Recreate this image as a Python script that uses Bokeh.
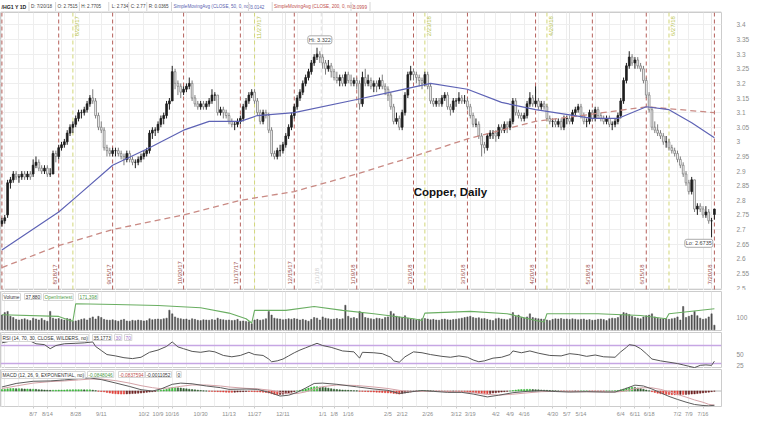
import pandas as pd
from bokeh.plotting import figure
from bokeh.layouts import column
from bokeh.models import (Range1d, Span, Label, FixedTicker, CustomJSTickFormatter,
                          ColumnDataSource, Grid)
from bokeh.core.properties import value
from bokeh.embed import file_html
from bokeh.resources import INLINE

FONT = "Liberation Sans"
FW = 721
RB = 38

# ---------------- data ----------------
holidays = ["2017-09-04", "2017-11-23", "2017-12-25", "2018-01-01", "2018-01-15",
            "2018-02-19", "2018-03-30", "2018-05-28", "2018-07-04"]

opens = [2.72,2.73,2.75,2.86,2.87,2.89,2.88,2.88,2.89,2.88,
         2.89,2.89,2.92,2.93,2.91,2.90,2.91,2.89,2.89,2.96,
         2.95,2.98,2.99,3.00,3.03,3.05,3.06,3.08,3.10,3.10,
         3.11,3.13,3.15,3.14,3.09,3.05,3.04,2.98,2.97,2.96,
         2.97,2.97,2.96,2.95,2.94,2.96,2.94,2.93,2.93,2.94,
         2.95,2.96,2.97,3.03,3.04,3.04,3.06,3.08,3.09,3.13,
         3.14,3.24,3.20,3.19,3.17,3.18,3.19,3.20,3.15,3.13,
         3.12,3.13,3.12,3.13,3.14,3.16,3.16,3.10,3.11,3.10,
         3.09,3.07,3.06,3.06,3.07,3.08,3.12,3.14,3.16,3.17,
         3.14,3.10,3.07,3.10,3.09,3.04,2.96,2.95,2.97,2.97,
         2.99,3.02,3.05,3.09,3.12,3.15,3.17,3.20,3.22,3.24,
         3.27,3.29,3.30,3.29,3.27,3.25,3.26,3.24,3.22,3.21,
         3.22,3.20,3.23,3.21,3.20,3.21,3.20,3.13,3.22,3.20,
         3.21,3.19,3.20,3.19,3.21,3.19,3.18,3.16,3.12,3.07,
         3.08,3.05,3.10,3.16,3.23,3.24,3.23,3.22,3.21,3.20,
         3.23,3.19,3.14,3.13,3.14,3.13,3.15,3.16,3.12,3.11,
         3.14,3.14,3.15,3.14,3.14,3.12,3.09,3.06,3.06,3.02,
         2.99,2.98,3.02,3.03,3.03,3.02,3.05,3.04,3.06,3.05,
         3.07,3.14,3.10,3.09,3.08,3.09,3.13,3.15,3.13,3.14,
         3.12,3.13,3.12,3.08,3.07,3.07,3.06,3.07,3.05,3.08,
         3.08,3.07,3.10,3.11,3.12,3.09,3.07,3.07,3.10,3.08,
         3.11,3.09,3.08,3.07,3.08,3.06,3.06,3.07,3.09,3.14,
         3.21,3.26,3.29,3.27,3.28,3.26,3.25,3.21,3.16,3.11,
         3.05,3.04,3.03,3.02,3.00,3.00,2.98,2.97,2.96,2.94,
         2.92,2.89,2.86,2.83,2.87,2.77,2.78,2.77,2.75,2.76,
         2.73,2.7515]
highs = [2.74,2.75,2.87,2.88,2.90,2.90,2.89,2.90,2.90,2.90,
         2.90,2.94,2.95,2.94,2.92,2.92,2.92,2.91,2.97,2.97,
         2.99,3.00,3.01,3.04,3.06,3.07,3.09,3.11,3.11,3.12,
         3.14,3.16,3.18,3.15,3.10,3.07,3.05,2.99,2.98,2.98,
         2.98,2.98,2.97,2.96,2.97,2.97,2.95,2.94,2.95,2.96,
         2.97,2.98,3.04,3.05,3.05,3.07,3.09,3.10,3.14,3.15,
         3.26,3.25,3.21,3.20,3.19,3.20,3.22,3.21,3.16,3.14,
         3.14,3.14,3.14,3.15,3.18,3.17,3.16,3.12,3.12,3.11,
         3.10,3.08,3.07,3.08,3.09,3.13,3.15,3.17,3.18,3.18,
         3.15,3.11,3.11,3.11,3.10,3.05,2.97,2.98,2.99,3.00,
         3.03,3.06,3.10,3.13,3.16,3.18,3.21,3.23,3.25,3.28,
         3.30,3.322,3.31,3.30,3.28,3.28,3.27,3.25,3.24,3.23,
         3.23,3.24,3.24,3.23,3.22,3.22,3.21,3.24,3.25,3.23,
         3.22,3.21,3.21,3.22,3.23,3.20,3.19,3.17,3.13,3.10,
         3.09,3.11,3.17,3.24,3.26,3.25,3.24,3.23,3.22,3.24,
         3.24,3.20,3.15,3.15,3.15,3.16,3.17,3.17,3.13,3.15,
         3.15,3.17,3.16,3.16,3.15,3.13,3.10,3.08,3.07,3.03,
         3.00,3.03,3.04,3.04,3.04,3.06,3.06,3.07,3.07,3.08,
         3.15,3.15,3.11,3.10,3.10,3.14,3.17,3.16,3.19,3.15,
         3.14,3.14,3.13,3.09,3.08,3.08,3.08,3.08,3.09,3.09,
         3.09,3.11,3.12,3.13,3.13,3.10,3.08,3.11,3.11,3.12,
         3.12,3.10,3.09,3.09,3.09,3.07,3.08,3.10,3.15,3.22,
         3.27,3.31,3.30,3.29,3.29,3.27,3.26,3.22,3.17,3.12,
         3.07,3.06,3.04,3.03,3.02,3.01,2.99,2.98,2.97,2.95,
         2.93,2.90,2.87,2.88,2.87,2.79,2.79,2.78,2.78,2.77,
         2.74,2.7705]
lows = [2.71,2.72,2.74,2.84,2.86,2.87,2.86,2.87,2.87,2.87,
        2.87,2.88,2.91,2.90,2.89,2.89,2.88,2.88,2.89,2.93,
        2.94,2.97,2.98,2.99,3.02,3.03,3.05,3.07,3.08,3.09,
        3.10,3.12,3.13,3.08,3.04,3.03,2.97,2.95,2.95,2.95,
        2.95,2.95,2.94,2.92,2.93,2.93,2.92,2.91,2.92,2.93,
        2.94,2.95,2.96,3.01,3.02,3.03,3.05,3.06,3.08,3.11,
        3.14,3.18,3.16,3.15,3.16,3.17,3.18,3.14,3.12,3.11,
        3.11,3.11,3.11,3.12,3.13,3.14,3.09,3.09,3.08,3.08,
        3.06,3.05,3.04,3.05,3.06,3.07,3.11,3.13,3.15,3.13,
        3.09,3.06,3.06,3.08,3.03,2.95,2.94,2.94,2.95,2.96,
        2.98,3.01,3.04,3.08,3.11,3.14,3.16,3.19,3.21,3.23,
        3.26,3.28,3.27,3.25,3.23,3.24,3.22,3.21,3.20,3.19,
        3.19,3.19,3.20,3.19,3.19,3.18,3.11,3.12,3.19,3.19,
        3.18,3.17,3.17,3.18,3.18,3.16,3.14,3.11,3.06,3.06,
        3.04,3.04,3.09,3.15,3.21,3.21,3.20,3.19,3.18,3.19,
        3.18,3.13,3.12,3.12,3.12,3.12,3.14,3.11,3.09,3.10,
        3.12,3.13,3.13,3.13,3.11,3.08,3.05,3.05,3.01,2.95,
        2.96,2.97,3.01,3.01,3.00,3.01,3.03,3.03,3.03,3.04,
        3.06,3.09,3.08,3.07,3.07,3.08,3.12,3.12,3.12,3.11,
        3.11,3.11,3.07,3.06,3.05,3.05,3.05,3.04,3.04,3.06,
        3.06,3.06,3.09,3.10,3.08,3.06,3.05,3.06,3.07,3.07,
        3.08,3.07,3.06,3.06,3.05,3.04,3.05,3.06,3.08,3.13,
        3.20,3.25,3.26,3.25,3.25,3.24,3.20,3.15,3.10,3.04,
        3.03,3.02,3.01,2.99,2.98,2.97,2.96,2.95,2.93,2.91,
        2.88,2.85,2.82,2.82,2.76,2.75,2.76,2.74,2.74,2.72,
        2.6735,2.734]
closes = [2.73,2.74,2.86,2.87,2.89,2.88,2.88,2.89,2.88,2.89,
          2.88,2.92,2.93,2.91,2.90,2.91,2.89,2.89,2.96,2.95,
          2.98,2.99,3.00,3.03,3.05,3.06,3.08,3.10,3.10,3.11,
          3.13,3.15,3.14,3.09,3.05,3.04,2.98,2.97,2.96,2.97,
          2.97,2.96,2.95,2.94,2.96,2.94,2.93,2.93,2.94,2.95,
          2.96,2.97,3.03,3.04,3.04,3.06,3.08,3.09,3.13,3.14,
          3.24,3.20,3.19,3.17,3.18,3.19,3.20,3.15,3.13,3.12,
          3.13,3.12,3.13,3.14,3.16,3.16,3.10,3.11,3.10,3.09,
          3.07,3.06,3.06,3.07,3.08,3.12,3.14,3.16,3.17,3.14,
          3.10,3.07,3.10,3.09,3.04,2.96,2.95,2.97,2.97,2.99,
          3.02,3.05,3.09,3.12,3.15,3.17,3.20,3.22,3.24,3.27,
          3.29,3.30,3.29,3.27,3.25,3.26,3.24,3.22,3.21,3.22,
          3.20,3.23,3.21,3.20,3.21,3.20,3.13,3.22,3.20,3.21,
          3.19,3.20,3.19,3.21,3.19,3.18,3.16,3.12,3.07,3.08,
          3.05,3.10,3.16,3.23,3.24,3.23,3.22,3.21,3.20,3.23,
          3.19,3.14,3.13,3.14,3.13,3.15,3.16,3.12,3.11,3.14,
          3.14,3.15,3.14,3.14,3.12,3.09,3.06,3.06,3.02,2.99,
          2.98,3.02,3.03,3.03,3.02,3.05,3.04,3.06,3.05,3.07,
          3.14,3.10,3.09,3.08,3.09,3.13,3.15,3.13,3.14,3.12,
          3.13,3.12,3.08,3.07,3.07,3.06,3.07,3.05,3.08,3.08,
          3.07,3.10,3.11,3.12,3.09,3.07,3.07,3.10,3.08,3.11,
          3.09,3.08,3.07,3.08,3.06,3.06,3.07,3.09,3.14,3.21,
          3.26,3.29,3.27,3.28,3.26,3.25,3.21,3.16,3.11,3.05,
          3.04,3.03,3.02,3.00,3.00,2.98,2.97,2.96,2.94,2.92,
          2.89,2.86,2.83,2.87,2.77,2.78,2.77,2.75,2.76,2.73,
          2.73,2.77]

# volume, thousands of contracts (one row per week)
volume_k = [120,
    140,150,110,100,85, 80,85,90,82,75, 95,88,80,92,78, 70,150,95,88,92,
    85,80,92,88,70, 72,78,85,90,80, 95,105,88,110, 100,85,80,78,82,
    75,70,80,85,72, 70,78,74,80,76, 72,75,90,82,85, 88,84,90,95,160,
    130,105,95,90,85, 88,80,90,85,78, 75,82,80,78,84, 80,95,85,82,78,
    80,75,78,85,70, 72,68,65,50, 80,85,78,82,90, 150,120,95,90,88,
    82,85,90,86,92, 88,80,85,78,70, 85,100,95,80, 105,95,90,85,
    88,92,85,90,200, 110,95,100,92, 150,140,100,95,90, 85,95,92,88,100,
    105,150,130,110,105, 100,115,95,88,85, 80,85,90,92, 88,82,85,80,78,
    85,88,82,80,84, 86,90,95,100,105, 110,100,95,98,90, 92,85,80,75,
    90,95,88,85,82, 90,140,110,120,100, 95,105,130,100,95, 90,88,85,80,75,
    85,90,88,92,86, 88,84,90,86,82, 85,88,80,84,78, 80,85,88,84,75,
    90,95,92,100, 120,140,135,125,110, 100,95,90,105,115, 120,130,105,95,90,
    88,92,85,90,95, 105,80,190,100, 110,120,150,115,95, 85,90,105,130,37.88]

# open interest (thousands) read at points along the line
oi_idx = [0,20,24,25,26,40,55,70,80,86,88,89,100,110,120,131,145,148,149,165,178,188,191,192,210,225,234,235,251]
oi_val = [122,109,76,70,212,206,198,180,136,90,55,158,158,190,158,131,90,76,136,150,131,76,63,131,131,117,90,131,171.4]

# moving averages read at points along the lines
sma50_idx = [0,20,26,39,52,64,73,84,90,103,125,137,151,164,176,188,208,217,227,235,243,251]
sma50_val = [2.63,2.76,2.81,2.92,2.98,3.04,3.07,3.07,3.09,3.10,3.145,3.17,3.20,3.18,3.135,3.11,3.08,3.08,3.12,3.11,3.065,3.0142]
sma200_idx = [0,20,39,64,84,103,125,145,164,188,208,227,251]
sma200_val = [2.57,2.645,2.70,2.75,2.80,2.83,2.89,2.95,3.01,3.07,3.095,3.12,3.0999]

# RSI read at points
rsi_idx = [0,3,6,10,12,15,17,19,22,26,29,32,33,35,37,40,43,46,49,52,
           55,58,60,62,64,67,70,73,75,78,81,84,87,89,92,94,95,97,99,101,
           103,105,107,109,111,113,116,120,124,126,127,131,134,137,138,140,142,145,148,151,
           155,158,161,164,166,168,170,173,176,179,180,183,186,189,193,197,200,203,206,209,
           212,216,218,220,221,223,225,227,229,232,235,238,240,242,244,246,248,250,251]
rsi_val = [76,80,82,80,74,72,63,70,74,75,76,78,68,59,50,47,43,41,44,55,
           60,68,78,67,63,57,55,58,56,48,45,48,55,50,48,40,34,36,40,47,
           54,60,65,70,75,70,66,58,56,42,55,54,52,44,36,33,45,56,54,50,
           46,44,47,44,38,34,36,42,44,50,58,54,58,53,48,47,52,50,46,49,
           45,44,56,66,72,70,63,52,40,36,33,30,27,24,21,26,27,26,35.1773]

# MACD value / average read at points
macd_idx = [0,5,11,17,22,27,31,35,40,45,49,53,56,60,63,67,72,77,80,86,
            90,95,98,101,104,107,110,113,118,125,131,136,140,144,148,152,157,162,166,171,
            175,180,185,190,195,200,206,212,216,219,223,226,229,232,235,238,241,244,247,249,251]
macd_val = [0.024,0.045,0.058,0.060,0.066,0.074,0.078,0.068,0.048,0.027,
            0.008,0.0,0.012,0.040,0.047,0.043,0.030,0.020,0.010,0.012,
            0.010,-0.012,-0.030,-0.025,-0.008,0.018,0.045,0.047,0.040,0.025,
            0.012,0.004,-0.015,-0.005,0.003,-0.002,-0.008,-0.008,-0.018,-0.035,
            -0.025,-0.010,-0.002,0.002,-0.003,-0.006,-0.004,-0.006,-0.006,0.010,
            0.035,0.030,0.012,-0.010,-0.032,-0.050,-0.066,-0.080,-0.086,-0.088,-0.0848046]
signal_val = [0.015,0.030,0.047,0.056,0.060,0.066,0.071,0.071,0.062,0.047,
              0.032,0.020,0.014,0.020,0.028,0.036,0.036,0.030,0.024,0.016,
              0.013,0.004,-0.008,-0.016,-0.015,-0.005,0.012,0.026,0.036,0.033,
              0.024,0.015,0.004,-0.003,-0.002,-0.001,-0.004,-0.006,-0.010,-0.020,
              -0.024,-0.019,-0.011,-0.004,-0.002,-0.004,-0.004,-0.005,-0.006,-0.002,
              0.014,0.020,0.019,0.010,-0.004,-0.020,-0.036,-0.053,-0.067,-0.079,-0.0837594]
# MACD histogram, thousandths
hist_k = [9,11,13,15,15,14,14,13,12,12,11,11,
          10,8,7,6,5,4,5,5,6,6,6,
          7,7,8,8,8,8,7,7,7,
          5,2,-1,-3,
          -5,-9,-12,-14,-16,-17,-18,-18,-17,-16,-15,-14,-13,-12,
          -10,-8,-6,-4,-2,
          1,4,7,10,16,20,20,19,18,
          15,13,11,9,7,5,3,1,0,-1,-2,-3,-4,-5,-6,-7,-8,
          -8,-7,-6,-5,-4,-3,-3,-3,-4,-5,-6,-7,-9,
          -12,-16,-20,-22,-21,-19,-16,
          -12,-8,-4,0,4,8,13,18,22,25,26,24,
          22,20,17,14,11,9,7,6,5,4,3,2,1,
          -1,-2,-3,-4,-5,-6,-7,-8,-9,-10,-11,-12,-14,-16,-18,
          -15,-12,-9,-6,-3,-1,1,2,3,2,
          1,0,-1,-2,-2,-3,-3,-3,-2,-2,-2,-3,-3,
          -5,-7,-9,-11,-13,-15,-16,-16,
          -14,-12,-10,-8,-6,-4,-2,0,3,6,8,
          9,9,10,10,9,8,7,6,5,4,3,2,1,
          0,-1,-1,-2,-2,-2,-1,-1,0,0,0,-1,-1,-1,-1,-1,-1,0,0,0,1,
          3,7,12,17,21,22,
          21,18,15,11,6,1,
          -4,-9,-13,-16,-18,-20,-21,-22,-22,-22,-21,-21,-20,-19,-18,-17,-15,-13,-11,-9,-7,-4,-1]

red_dates = ["2017-07-21","2017-08-18","2017-09-15","2017-10-20","2017-11-17","2017-12-15","2018-01-19",
             "2018-02-16","2018-03-16","2018-04-20","2018-05-18","2018-06-15","2018-07-20"]
red_label_dates = red_dates[1:]
red_labels = ["8/18/17","9/15/17","10/20/17","11/17/17","12/15/17","1/19/18",
              "2/16/18","3/16/18","4/20/18","5/18/18","6/15/18","7/20/18"]
green_dates = ["2017-08-25","2017-11-27","2018-02-23","2018-04-26","2018-06-27"]
green_labels = ["8/25/17","11/27/17","2/23/18","4/26/18","6/27/18"]

tick_dates = ["2017-08-07","2017-08-14","2017-08-28","2017-09-11","2017-10-02","2017-10-09","2017-10-16",
              "2017-10-30","2017-11-13","2017-11-27","2017-12-11","2018-01-02","2018-01-08","2018-01-16",
              "2018-02-05","2018-02-12","2018-02-26","2018-03-12","2018-03-19","2018-04-02","2018-04-09",
              "2018-04-16","2018-04-30","2018-05-07","2018-05-14","2018-06-04","2018-06-11","2018-06-18",
              "2018-07-02","2018-07-09","2018-07-16"]
tick_labels = ["8/7","8/14","8/28","9/11","10/2","10/9","10/16","10/30","11/13","11/27","12/11","1/1",
               "1/8","1/16","2/5","2/12","2/26","3/12","3/19","4/2","4/9","4/16","4/30","5/7","5/14",
               "6/4","6/11","6/18","7/2","7/9","7/16"]

# ---------------- index ----------------
dates = [d for d in pd.bdate_range("2017-07-21", "2018-07-20") if d.strftime("%Y-%m-%d") not in holidays]
assert len(dates) == len(closes) == len(opens) == len(highs) == len(lows) == len(volume_k) == len(hist_k)
pos = {d.strftime("%Y-%m-%d"): i for i, d in enumerate(dates)}
idx = list(range(len(dates)))
week_starts = [i for i in idx if i == 0 or dates[i].weekday() < dates[i - 1].weekday()]

XR = Range1d(-0.5, 253.5)


def base_fig(fh, yr, xaxis=False, top=1):
    p = figure(frame_width=FW, frame_height=fh, x_range=XR, y_range=yr,
               x_axis_location="below" if xaxis else None, y_axis_location="right",
               toolbar_location=None, output_backend="svg",
               min_border_left=0, min_border_right=RB, min_border_top=top, min_border_bottom=0)
    p.outline_line_color = "#cccccc"
    p.yaxis.axis_line_color = None
    p.yaxis.major_tick_line_color = None
    p.yaxis.minor_tick_line_color = None
    p.yaxis.major_label_text_font = FONT
    p.yaxis.major_label_text_font_size = "6.5px"
    p.yaxis.major_label_text_color = "#8c8c8c"
    p.yaxis.major_label_standoff = 9
    p.ygrid.grid_line_color = "#eeeeee"
    if xaxis:
        p.xgrid.visible = False
    p.add_layout(Grid(dimension=0, ticker=FixedTicker(ticks=week_starts),
                      grid_line_color="#eeeeee"))
    return p


def tag(p, y, txt, bg):
    p.add_layout(Label(x=253.5, y=y, text=txt, x_offset=3, text_baseline="middle", text_align="left",
                       text_font=FONT, text_font_size="6px", text_color="white",
                       background_fill_color=bg, background_fill_alpha=1.0, padding=1, border_radius=2))


def head(p, ytop, items):
    for xo, txt, col in items:
        p.add_layout(Label(x=-0.5, y=ytop, x_offset=xo, y_offset=-2, text=txt, text_color=col,
                           text_font=FONT, text_font_size="4.8px", text_baseline="top",
                           border_line_color="#d6d6d6", background_fill_color="white",
                           background_fill_alpha=1.0, padding=1))


# ---------------- header strip ----------------
hdr = figure(frame_width=FW, frame_height=12, x_range=Range1d(0, FW + RB), y_range=Range1d(0, 12),
             x_axis_location=None, y_axis_location=None, toolbar_location=None, output_backend="svg",
             min_border_left=0, min_border_right=RB, min_border_top=0, min_border_bottom=0)
hdr.outline_line_color = None
hdr.xgrid.visible = False
hdr.ygrid.visible = False
hdr_bold = dict(x=[1], y=[6], t=["/HG1 Y 1D"], c=["#222222"])
hdr_norm = dict(x=[32, 60, 85, 117, 137, 156, 182, 263, 288, 371],
                y=[6] * 10,
                t=["D: 7/20/18", "O: 2.7515", "H: 2.7705", "L: 2.734", "C: 2.77", "R: 0.0365",
                   "SimpleMovingAvg (CLOSE, 50, 0, no)", "3.0142",
                   "SimpleMovingAvg (CLOSE, 200, 0, no)", "3.0999"],
                c=["#444444"] * 6 + ["#5a5fb0", "#5a5fb0", "#c0504d", "#c0504d"])
hdr.text(x="x", y="y", text="t", text_color="c", source=ColumnDataSource(hdr_bold),
         text_font=value(FONT), text_font_size="5.2px", text_font_style="bold", text_baseline="middle")
hdr.text(x="x", y="y", text="t", text_color="c", source=ColumnDataSource(hdr_norm),
         text_font=value(FONT), text_font_size="4.6px", text_baseline="middle")
seps = [30, 58, 83, 114, 135, 154, 180, 261, 286, 369, 389]
hdr.segment(x0=seps, y0=[1.5] * len(seps), x1=seps, y1=[10.5] * len(seps), line_color="#d6d6d6")
hdr.segment(x0=[0], y0=[0.5], x1=[FW + RB], y1=[0.5], line_color="#d0d0d0")

# ---------------- main price panel ----------------
main = base_fig(278, Range1d(2.4915, 3.4425), top=0)
main.yaxis.ticker = FixedTicker(ticks=[round(2.5 + 0.05 * k, 2) for k in range(19)])
main.yaxis.formatter = CustomJSTickFormatter(code="return String(+tick.toFixed(2));")

for d in red_dates:
    main.add_layout(Span(location=pos[d], dimension="height", line_color="#b5615c",
                         line_dash="4 3", line_width=1, level="underlay"))
for d in green_dates:
    main.add_layout(Span(location=pos[d], dimension="height", line_color="#d2d77a",
                         line_dash="4 3", line_width=1, level="underlay"))
main.add_layout(Span(location=112.5, dimension="height", line_color="#dddddd",
                     line_dash="4 3", line_width=1, level="underlay"))

main.text(x=[pos[d] for d in red_label_dates], y=[2.512] * len(red_label_dates), text=red_labels,
          angle=1.5708, text_align="left", text_baseline="bottom", x_offset=-1,
          text_font=value(FONT), text_font_size="6px", text_color="#a0524d")
main.text(x=[pos[d] for d in green_dates], y=[3.43] * len(green_dates), text=green_labels,
          angle=1.5708, text_align="right", text_baseline="top", x_offset=1,
          text_font=value(FONT), text_font_size="6px", text_color="#b9c44a")
main.text(x=[112.5], y=[2.512], text=["1/1/18"], angle=1.5708, text_align="left",
          text_baseline="bottom", x_offset=-1, text_font=value(FONT), text_font_size="6px",
          text_color="#cfcfcf")

inc = [c >= o for o, c in zip(opens, closes)]
src = ColumnDataSource(dict(
    x=idx, h=highs, l=lows,
    top=[max(o, c) for o, c in zip(opens, closes)],
    bot=[min(o, c) for o, c in zip(opens, closes)],
    fill=["#1e1e1e" if u else "#ffffff" for u in inc],
    edge=["#1e1e1e" if u else "#7d7d7d" for u in inc]))
main.segment(x0="x", y0="l", x1="x", y1="h", line_color="edge", line_width=1, source=src)
main.vbar(x="x", width=0.62, top="top", bottom="bot", fill_color="fill", line_color="edge",
          line_width=0.8, source=src)

main.line(sma200_idx, sma200_val, line_color="#c98a84", line_width=1.3, line_dash="6 4")
main.line(sma50_idx, sma50_val, line_color="#5e63b5", line_width=1.2)

main.add_layout(Label(x=112, y=3.349, text="Hi: 3.322", text_align="center", text_baseline="middle",
                      text_font=FONT, text_font_size="5.5px", text_color="#444444",
                      border_line_color="#aaaaaa", background_fill_color="white",
                      background_fill_alpha=1.0, padding=1, border_radius=2))
main.add_layout(Label(x=245.5, y=2.653, text="Lo: 2.6735", text_align="center", text_baseline="middle",
                      text_font=FONT, text_font_size="5.5px", text_color="#444444",
                      border_line_color="#aaaaaa", background_fill_color="white",
                      background_fill_alpha=1.0, padding=1, border_radius=2))
main.add_layout(Label(x=158, y=2.83, text="Copper, Daily", text_align="center", text_baseline="middle",
                      text_font=FONT, text_font_size="11.5px", text_font_style="bold",
                      text_color="#111111"))
tag(main, 3.0999, "3.0999", "#d0343c")
tag(main, 3.0142, "3.0142", "#2a3ccf")
tag(main, 2.77, "2.77", "#222222")

# ---------------- volume panel ----------------
vol = base_fig(40, Range1d(-14, 312))
vol.yaxis.ticker = FixedTicker(ticks=[100])
vol.ygrid.grid_line_color = None
vol.vbar(x=idx, top=volume_k, bottom=0, width=0.45, fill_color="#4f4f4f", line_color="#4f4f4f",
         line_width=0.5)
vol.line(oi_idx, oi_val, line_color="#6aae62", line_width=1.1)
head(vol, 312, [(2, "Volume", "#333333"), (24, "37,880", "#333333"),
                (43, "OpenInterest", "#4f9a48"), (78, "171,398", "#4f9a48")])
tag(vol, 171.4, "171,398", "#3c9a3c")

# ---------------- RSI panel ----------------
rsi = base_fig(36, Range1d(19, 99))
rsi.yaxis.ticker = FixedTicker(ticks=[25, 50])
rsi.ygrid.grid_line_color = None
for lv in (70, 30):
    rsi.add_layout(Span(location=lv, dimension="width", line_color="#c6a6e4", line_width=1.5,
                        level="underlay"))
rsi.line(rsi_idx, rsi_val, line_color="#555555", line_width=1)
head(rsi, 99, [(1, "RSI (14, 70, 30, CLOSE, WILDERS, no)", "#333333"), (92, "35.1773", "#333333"),
               (114, "30", "#9b6fc8"), (124, "70", "#9b6fc8")])
tag(rsi, 70, "70", "#a05ee0")
tag(rsi, 35.1773, "35.1773", "#222222")

# ---------------- MACD panel ----------------
macd = base_fig(37, Range1d(-0.092, 0.128), xaxis=True)
macd.yaxis.ticker = FixedTicker(ticks=[])
macd.add_layout(Span(location=0, dimension="width", line_color="#b5b5b5", line_width=1,
                     level="underlay"))
hist = [h / 1000.0 for h in hist_k]
hcol = []
for i, h in enumerate(hist):
    prev = hist[i - 1] if i > 0 else 0.0
    if h >= 0:
        hcol.append("#3cb83c" if h >= prev else "#2f5f2f")
    else:
        hcol.append("#e0403a" if h <= prev else "#6e2222")
macd.vbar(x=idx, top=hist, bottom=0, width=0.5, fill_color=hcol, line_color=hcol, line_width=0.5)
macd.line(macd_idx, signal_val, line_color="#d4a3a8", line_width=1)
macd.line(macd_idx, macd_val, line_color="#5c5c5c", line_width=1)
head(macd, 0.128, [(1, "MACD (12, 26, 9, EXPONENTIAL, no)", "#333333"), (87, "-0.0848046", "#4f9a48"),
                   (118, "-0.0837594", "#c0504d"), (145, "-0.0011052", "#333333"), (176, "0", "#333333")])
tag(macd, 0.0, "-0.0011", "#c0343c")

macd.xaxis.ticker = FixedTicker(ticks=[pos[d] for d in tick_dates])
macd.xaxis.major_label_overrides = {pos[d]: lab for d, lab in zip(tick_dates, tick_labels)}
macd.xaxis.major_label_text_font = FONT
macd.xaxis.major_label_text_font_size = "5.6px"
macd.xaxis.major_label_text_color = "#8c8c8c"
macd.xaxis.axis_line_color = None
macd.xaxis.major_tick_line_color = "#cccccc"
macd.xaxis.major_tick_out = 2
macd.xaxis.major_tick_in = 0
macd.xaxis.minor_tick_line_color = None
macd.xaxis.major_label_standoff = 2

layout = column(hdr, main, vol, rsi, macd, spacing=0)
open("out.html", "w").write(file_html(layout, INLINE))
